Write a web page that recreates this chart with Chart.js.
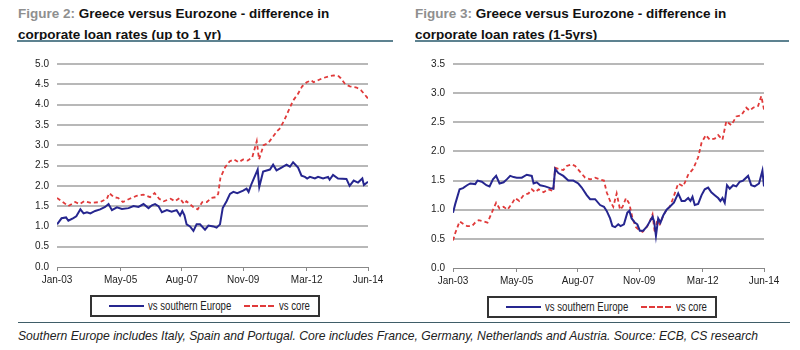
<!DOCTYPE html>
<html>
<head>
<meta charset="utf-8">
<script src="https://cdn.jsdelivr.net/npm/chart.js@4/dist/chart.umd.min.js"></script>
<style>
  body { margin: 0; background: #fff; font-family: Arial, "Liberation Sans", sans-serif; }
  #page { position: relative; width: 800px; height: 350px; overflow: hidden; }
  .title { position: absolute; top: 3px; font-size: 13.5px; font-weight: bold; color: #111; line-height: 21px; white-space: nowrap; }
  .title .fig { color: #8f8f8f; }
  .rule { position: absolute; height: 2px; background: #5d8290; }
  canvas { position: absolute; top: 50px; }
  .legend { position: absolute; height: 18px; border: 2px solid #333; background: #fff;
            font-family: Arial, "Liberation Sans", sans-serif; font-size: 12px; color: #222; }
  .legend span { position: absolute; top: 2px; transform: scaleX(0.8); transform-origin: left center; white-space: nowrap; }
  .legend i { position: absolute; top: 8px; height: 0; }
  .foot { position: absolute; left: 18px; top: 329px; font-size: 12.15px; font-style: italic; color: #222; white-space: nowrap; }
</style>
</head>
<body>
<div id="page">
  <div class="title" style="left:18px;"><span class="fig">Figure 2:</span> Greece versus Eurozone - difference in<br>corporate loan rates (up to 1 yr)</div>
  <div class="rule" style="left:17px; width:376px; top:40px;"></div>
  <div class="title" style="left:415px;"><span class="fig">Figure 3:</span> Greece versus Eurozone - difference in<br>corporate loan rates (1-5yrs)</div>
  <div class="rule" style="left:415px; width:374px; top:40px;"></div>

  <canvas id="left" width="400" height="240" style="left:0px;"></canvas>
  <canvas id="right" width="400" height="240" style="left:400px;"></canvas>

  <div class="legend" style="left:90px; top:295px; width:226px;">
    <i style="left:17px; width:35px; border-top:2px solid #26268f;"></i><span style="left:56px;">vs southern Europe</span>
    <i style="left:152px; width:30px; border-top:2px dashed #e03a3a;"></i><span style="left:187px;">vs core</span>
  </div>
  <div class="legend" style="left:487px; top:296px; width:226px;">
    <i style="left:17px; width:35px; border-top:2px solid #26268f;"></i><span style="left:56px;">vs southern Europe</span>
    <i style="left:152px; width:30px; border-top:2px dashed #e03a3a;"></i><span style="left:187px;">vs core</span>
  </div>

  <div class="rule" style="left:18px; width:772px; top:322px; height:1px; background:#3f5d68;"></div>
  <div class="foot">Southern Europe includes Italy, Spain and Portugal. Core includes France, Germany, Netherlands and Austria. Source: ECB, CS research</div>
</div>

<script>
// x positions are months since Jan-03 (0 = Jan-03, 137 = Jun-14)
const tickMonths = [0, 28, 55, 82, 110, 137];
const tickLabels = ["Jan-03", "May-05", "Aug-07", "Nov-09", "Mar-12", "Jun-14"];

// Figure 2: up to 1 yr
const shortSouthMonths = [0, 2, 4, 5, 7, 8.5, 10.3, 11.7, 13.2, 14.7, 16.8, 19, 21.2, 22.7, 24.2, 26.4, 28.6, 31.5, 33.7, 35.9, 38.1, 40.3, 41.8, 43.2, 44.7, 46.2, 48.4, 50.5, 52.7, 54.2, 55.2, 56.1, 57.1, 58.6, 60.1, 61.5, 63, 65.2, 66.7, 68.9, 70.3, 71.8, 73, 74.7, 76.2, 77.7, 79.4, 82, 83.5, 84.4, 85.7, 88.4, 89.1, 90.8, 93.8, 95.2, 96.7, 98.9, 101.1, 102.6, 104, 106.2, 107.7, 109.2, 110.2, 111.4, 113.6, 115, 117.2, 119.4, 120.1, 121.6, 123.8, 127.5, 128.9, 130.7, 132.6, 134.5, 135.2, 137];
const shortSouth = [1.05, 1.2, 1.22, 1.14, 1.2, 1.25, 1.42, 1.32, 1.35, 1.32, 1.38, 1.42, 1.48, 1.55, 1.4, 1.47, 1.43, 1.45, 1.5, 1.48, 1.55, 1.45, 1.52, 1.55, 1.5, 1.35, 1.4, 1.36, 1.4, 1.27, 1.38, 1.28, 1.05, 1.0, 0.89, 1.05, 1.05, 0.92, 1.02, 1.0, 0.97, 1.05, 1.45, 1.62, 1.8, 1.85, 1.82, 1.88, 1.93, 1.85, 2.05, 2.4, 1.97, 2.35, 2.4, 2.52, 2.38, 2.45, 2.52, 2.47, 2.58, 2.45, 2.25, 2.22, 2.18, 2.22, 2.18, 2.22, 2.18, 2.22, 2.15, 2.27, 2.18, 2.17, 2.0, 2.13, 2.08, 2.18, 2.02, 2.1];
const shortCoreMonths = [0, 3, 5, 8, 10, 12, 15, 19, 22, 23, 25, 27, 29, 32, 35, 38, 41, 43, 45, 47, 50, 52, 54, 56, 57, 60, 62, 64, 66, 68, 70, 71, 72, 74, 76, 78, 80, 82, 84, 86, 88, 89, 91, 93, 95, 97, 98, 100, 102, 104, 106, 108, 110, 112, 113, 115, 117, 120, 122, 124, 125, 127, 129, 132, 134, 137];
const shortCore = [1.7, 1.58, 1.5, 1.6, 1.55, 1.62, 1.58, 1.6, 1.68, 1.82, 1.72, 1.7, 1.6, 1.68, 1.75, 1.78, 1.72, 1.82, 1.68, 1.62, 1.68, 1.62, 1.7, 1.55, 1.62, 1.48, 1.42, 1.6, 1.6, 1.7, 1.72, 1.8, 2.2, 2.45, 2.6, 2.65, 2.58, 2.65, 2.62, 2.7, 3.1, 2.65, 3.0, 3.05, 3.2, 3.35, 3.4, 3.6, 3.85, 4.1, 4.25, 4.45, 4.55, 4.6, 4.55, 4.6, 4.65, 4.7, 4.72, 4.7, 4.65, 4.5, 4.45, 4.42, 4.35, 4.15];

// Figure 3: 1-5 yrs
const longSouthMonths = [0, 1, 2.9, 4.4, 6.2, 7.6, 9.8, 10.8, 12.7, 14.7, 16.1, 17.6, 19, 20.5, 22.3, 23.7, 25.2, 26.7, 28.1, 30.3, 32.5, 34.7, 35.5, 36.9, 38.4, 40.6, 42.8, 44.2, 45, 46.4, 48.6, 50.8, 53, 55.2, 56.7, 58.9, 60.4, 62.6, 64.8, 66.5, 67.7, 69.2, 70.2, 71.4, 72.8, 73.8, 75.3, 76.8, 77.7, 78.7, 80.1, 81.2, 82.3, 83.8, 85.6, 86.7, 87.9, 88.6, 89.4, 90.4, 91.4, 92.6, 94.1, 95.5, 97.3, 99.2, 100.7, 102.1, 103.6, 104.6, 105.5, 106.5, 108, 109.5, 110.9, 112.4, 113.8, 115.3, 116.8, 117.8, 118.7, 119.7, 120.7, 121.9, 123.4, 124.8, 126.3, 127.8, 130, 131.4, 132.9, 134.8, 136.3, 137];
const longSouth = [0.95, 1.1, 1.35, 1.37, 1.42, 1.45, 1.44, 1.5, 1.48, 1.42, 1.4, 1.52, 1.58, 1.45, 1.47, 1.52, 1.58, 1.56, 1.55, 1.55, 1.6, 1.58, 1.45, 1.47, 1.42, 1.4, 1.37, 1.36, 1.7, 1.63, 1.58, 1.5, 1.5, 1.45, 1.38, 1.25, 1.18, 1.18, 1.08, 1.05, 0.98, 0.85, 0.72, 0.7, 0.75, 0.72, 0.75, 0.95, 0.98, 0.85, 0.78, 0.75, 0.64, 0.64, 0.72, 0.8, 0.88, 0.8, 0.55, 0.85, 0.78, 0.9, 1.0, 1.05, 1.12, 1.28, 1.15, 1.15, 1.2, 1.15, 1.22, 1.08, 1.1, 1.25, 1.35, 1.38, 1.3, 1.25, 1.2, 1.15, 1.2, 1.12, 1.42, 1.36, 1.42, 1.4, 1.48, 1.5, 1.58, 1.42, 1.4, 1.45, 1.67, 1.4];
const longCoreMonths = [0, 1, 2.9, 4.7, 6.2, 8.4, 9.8, 11.3, 13.5, 15.2, 17.1, 19, 20.5, 22.3, 24, 25.9, 27.4, 29.2, 31.1, 33.3, 34.7, 36.2, 37.7, 39.9, 42, 44.2, 45, 46.4, 48.6, 50.1, 52.3, 53.8, 56, 58.2, 60.4, 62.6, 64.8, 66.5, 67.7, 69.2, 70.6, 72.1, 73.6, 74.7, 76.2, 77.7, 79.1, 80.6, 82.1, 83.5, 85.3, 86.7, 87.9, 88.9, 90, 91.1, 92.6, 94.1, 95.5, 97, 99.2, 101.4, 103.6, 105.8, 108, 109.5, 111.4, 113.1, 115.3, 116.8, 118.7, 120.4, 122.6, 124.8, 127, 129.2, 130.7, 132.2, 134.4, 135.8, 137];
const longCore = [0.47, 0.6, 0.8, 0.75, 0.72, 0.72, 0.78, 0.82, 0.8, 0.78, 0.95, 1.12, 1.02, 1.05, 1.0, 1.1, 1.2, 1.15, 1.25, 1.28, 1.35, 1.3, 1.35, 1.3, 1.35, 1.32, 1.72, 1.7, 1.68, 1.75, 1.78, 1.75, 1.65, 1.55, 1.52, 1.55, 1.52, 1.5, 1.3, 1.15, 1.05, 1.28, 1.0, 1.05, 1.2, 1.1, 0.85, 0.7, 0.65, 0.62, 0.7, 0.8, 0.92, 0.6, 0.82, 0.75, 0.9, 1.0, 1.05, 1.2, 1.45, 1.4, 1.6, 1.7, 1.9, 2.15, 2.28, 2.2, 2.22, 2.28, 2.2, 2.52, 2.45, 2.6, 2.62, 2.75, 2.7, 2.75, 2.78, 2.95, 2.72];

const toPoints = (xs, ys) => xs.map((x, i) => ({ x: x, y: ys[i] }));

function drawChart(id, south, core, yMax, yWidth, xHeight, pad) {
  new Chart(document.getElementById(id), {
    type: "line",
    data: {
      datasets: [
        { label: "vs southern Europe", data: south, borderColor: "#26268f", borderWidth: 2, pointRadius: 0, tension: 0 },
        { label: "vs core", data: core, borderColor: "#e03a3a", borderWidth: 1.8, borderDash: [4, 3], pointRadius: 0, tension: 0 }
      ]
    },
    options: {
      responsive: false,
      animation: false,
      devicePixelRatio: 1,
      layout: { padding: pad },
      plugins: { legend: { display: false }, tooltip: { enabled: false } },
      scales: {
        x: {
          type: "linear",
          min: 0,
          max: 137,
          afterBuildTicks: axis => { axis.ticks = tickMonths.map(v => ({ value: v })); },
          afterFit: axis => { axis.height = xHeight; },
          grid: { drawOnChartArea: false, drawTicks: true, tickLength: 4, color: "#888" },
          border: { display: true, color: "#888", width: 1 },
          ticks: {
            autoSkip: false,
            maxRotation: 0,
            padding: 3,
            color: "#222",
            font: { family: "Arial", size: 10 },
            callback: v => tickLabels[tickMonths.indexOf(v)]
          }
        },
        y: {
          min: 0,
          max: yMax,
          afterFit: axis => { axis.width = yWidth; },
          grid: {
            drawTicks: false,
            lineWidth: 2,
            color: c => (c.tick && c.tick.value === 0 ? "rgba(0,0,0,0)" : "#b8b8b8")
          },
          border: { display: false },
          ticks: {
            stepSize: 0.5,
            padding: 8,
            color: "#222",
            font: { family: "Arial", size: 10 },
            callback: v => v.toFixed(1)
          }
        }
      }
    }
  });
}

drawChart("left", toPoints(shortSouthMonths, shortSouth), toPoints(shortCoreMonths, shortCore), 5, 57, 23, { top: 7, right: 32 });
drawChart("right", toPoints(longSouthMonths, longSouth), toPoints(longCoreMonths, longCore), 3.5, 53, 22, { top: 7, right: 36 });
</script>
</body>
</html>
